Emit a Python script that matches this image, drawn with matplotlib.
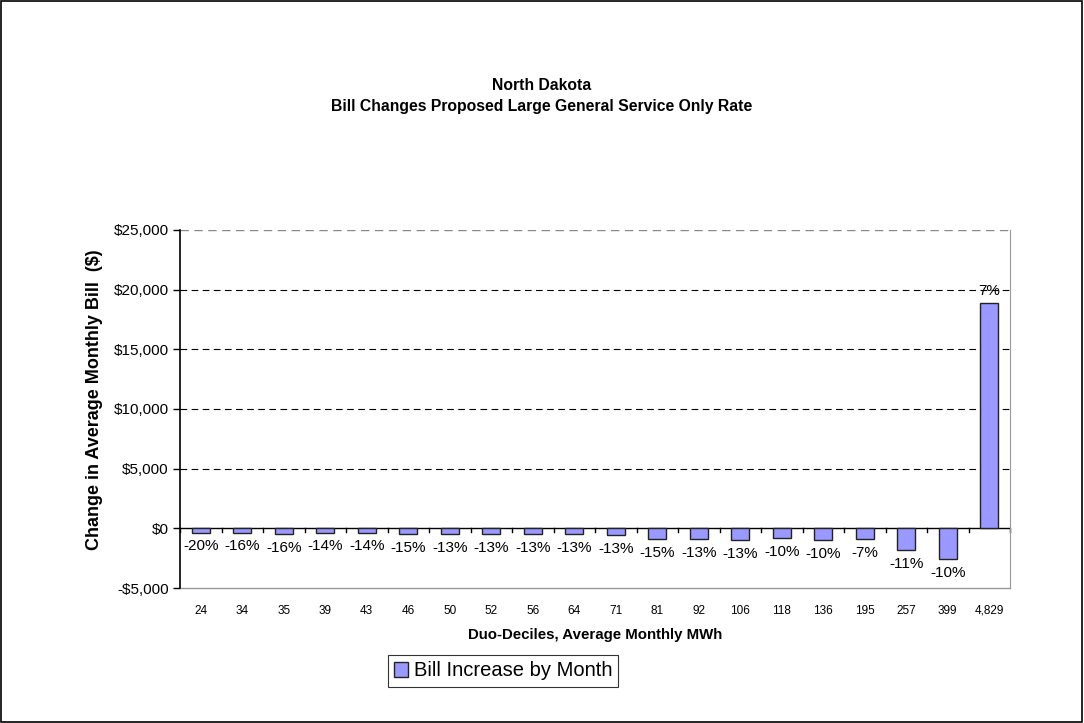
import numpy as np
import matplotlib.pyplot as plt
from matplotlib.patches import Rectangle
from matplotlib.ticker import FuncFormatter

plt.rcParams['font.family'] = ['Liberation Sans', 'DejaVu Sans']

categories = ["24", "34", "35", "39", "43", "46", "50", "52", "56", "64",
              "71", "81", "92", "106", "118", "136", "195", "257", "399", "4,829"]
bill_change = [-350, -350, -450, -350, -350, -450, -450, -500, -500, -500,
               -600, -900, -900, -1000, -800, -1000, -900, -1850, -2600, 18850]
pct_labels = ["-20%", "-16%", "-16%", "-14%", "-14%", "-15%", "-13%", "-13%", "-13%", "-13%",
              "-13%", "-15%", "-13%", "-13%", "-10%", "-10%", "-7%", "-11%", "-10%", "7%"]
y_ticks = [-5000, 0, 5000, 10000, 15000, 20000, 25000]

fig = plt.figure(figsize=(10.84, 7.23), dpi=100)
ax = fig.add_axes([180 / 1084, 1 - 588 / 723, 830 / 1084, 358 / 723])

x = np.arange(len(categories))
bars = ax.bar(x, bill_change, width=0.44, color="#9999FF", edgecolor="#222222",
              linewidth=1.0, label="Bill Increase by Month", zorder=3)

# data labels: below negative bars, above positive bars
for xi, v, lab in zip(x, bill_change, pct_labels):
    if v < 0:
        ax.annotate(lab, (xi, v), xytext=(0, -5), textcoords="offset points",
                    ha="center", va="top", fontsize=11, zorder=4)
    else:
        ax.annotate(lab, (xi, v), xytext=(0, 4), textcoords="offset points",
                    ha="center", va="bottom", fontsize=11, zorder=4)

ax.set_xlim(-0.5, len(categories) - 0.5)
ax.set_ylim(-5000, 25000)
ax.set_yticks(y_ticks)
ax.yaxis.set_major_formatter(FuncFormatter(
    lambda v, p: ("-$" if v < 0 else "$") + f"{abs(int(v)):,}"))
ax.tick_params(axis="y", direction="out", length=5, labelsize=11, width=1, pad=3)

for yv in y_ticks[2:-1]:
    ax.axhline(yv, color="black", linestyle=(0, (6, 4)), linewidth=0.8, zorder=1)
ax.axhline(25000, color="#888888", linestyle=(0, (6, 4)), linewidth=1.0, zorder=1)

# category axis at zero with boundary ticks below it
ax.axhline(0, color="black", linewidth=1.0, zorder=2)
for b in np.arange(-0.5, len(categories), 1.0):
    ax.plot([b, b], [0, -300], color="black", linewidth=1.0, zorder=2, clip_on=False)

ax.set_xticks(x)
ax.set_xticklabels(categories, fontsize=8.5)
ax.tick_params(axis="x", length=0, pad=12)

for side in ["top", "bottom"]:
    ax.spines[side].set_visible(False)
ax.spines["right"].set_color("#999999")
ax.spines["left"].set_color("black")
ax.spines["left"].set_linewidth(1.2)
ax.plot([-0.5, len(categories) - 0.5], [-5000, -5000], color="#999999",
        linewidth=1.0, clip_on=False, zorder=2)

fig.text(95 / 1084, 1 - 400 / 723, "Change in Average Monthly Bill  ($)", rotation=90,
         ha="center", va="center", fontsize=13, fontweight="bold")
ax.set_xlabel("Duo-Deciles, Average Monthly MWh", fontsize=10.8, fontweight="bold", labelpad=8)

fig.text(0.5, 1 - 85 / 723, "North Dakota", ha="center", va="center",
         fontsize=11.3, fontweight="bold")
fig.text(0.5, 1 - 106 / 723, "Bill Changes Proposed Large General Service Only Rate",
         ha="center", va="center", fontsize=11.3, fontweight="bold")

leg = fig.legend(handles=[bars], labels=["Bill Increase by Month"], loc="center",
                 bbox_to_anchor=(503 / 1084, 1 - 671 / 723), fontsize=14.5,
                 frameon=True, fancybox=False, edgecolor="black", handlelength=0.7,
                 handleheight=0.7, handletextpad=0.3, borderpad=0.3)
leg.get_frame().set_linewidth(0.8)

fig.patches.append(Rectangle((0.001, 0.001), 0.997, 0.997, transform=fig.transFigure,
                             fill=False, edgecolor="black", linewidth=1.2))

fig.savefig("out.png", dpi=100)
